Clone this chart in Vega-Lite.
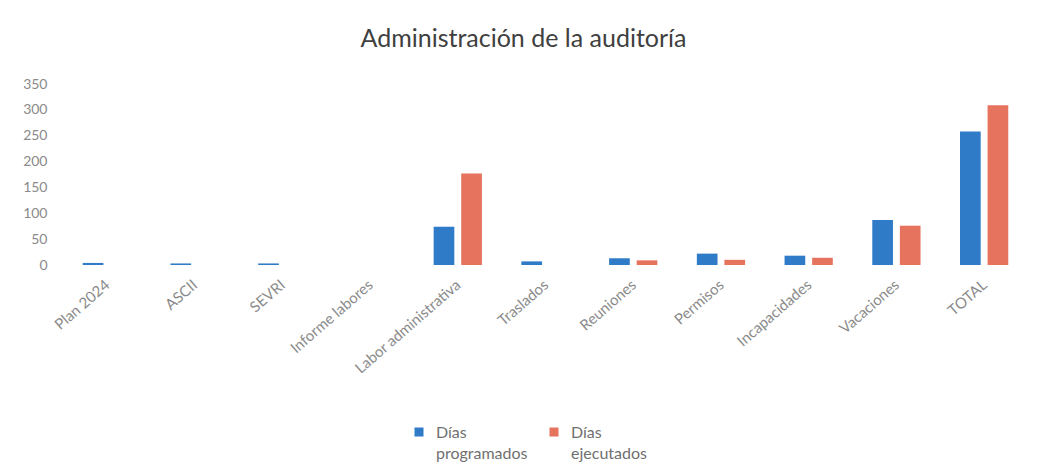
{
  "$schema": "https://vega.github.io/schema/vega-lite/v6.json",
  "autosize": {"type": "none"},
  "width": 965,
  "height": 181,
  "padding": {"left": 63, "top": 84, "right": 11, "bottom": 211},
  "background": "white",
  "title": {
    "text": "Administración de la auditoría",
    "font": "Lato",
    "fontSize": 25,
    "fontWeight": "normal",
    "color": "#404040",
    "anchor": "middle",
    "dx": -22,
    "offset": 25
  },
  "data": {
    "values": [
      {"categoria": "Plan 2024", "serie": "Días programados", "valor": 4},
      {"categoria": "Plan 2024", "serie": "Días ejecutados", "valor": 0},
      {"categoria": "ASCII", "serie": "Días programados", "valor": 3},
      {"categoria": "ASCII", "serie": "Días ejecutados", "valor": 0},
      {"categoria": "SEVRI", "serie": "Días programados", "valor": 3},
      {"categoria": "SEVRI", "serie": "Días ejecutados", "valor": 0},
      {"categoria": "Informe labores", "serie": "Días programados", "valor": 0},
      {"categoria": "Informe labores", "serie": "Días ejecutados", "valor": 0},
      {"categoria": "Labor administrativa", "serie": "Días programados", "valor": 74},
      {"categoria": "Labor administrativa", "serie": "Días ejecutados", "valor": 177},
      {"categoria": "Traslados", "serie": "Días programados", "valor": 7},
      {"categoria": "Traslados", "serie": "Días ejecutados", "valor": 0},
      {"categoria": "Reuniones", "serie": "Días programados", "valor": 13},
      {"categoria": "Reuniones", "serie": "Días ejecutados", "valor": 9},
      {"categoria": "Permisos", "serie": "Días programados", "valor": 22},
      {"categoria": "Permisos", "serie": "Días ejecutados", "valor": 10},
      {"categoria": "Incapacidades", "serie": "Días programados", "valor": 18},
      {"categoria": "Incapacidades", "serie": "Días ejecutados", "valor": 14},
      {"categoria": "Vacaciones", "serie": "Días programados", "valor": 87},
      {"categoria": "Vacaciones", "serie": "Días ejecutados", "valor": 76},
      {"categoria": "TOTAL", "serie": "Días programados", "valor": 258},
      {"categoria": "TOTAL", "serie": "Días ejecutados", "valor": 309}
    ]
  },
  "mark": {"type": "bar"},
  "encoding": {
    "x": {
      "field": "categoria",
      "type": "nominal",
      "sort": null,
      "scale": {"paddingInner": 0.45, "paddingOuter": 0.225},
      "axis": {
        "title": null,
        "labelAngle": -41,
        "labelFont": "Lato",
        "labelFontSize": 15,
        "labelColor": "#8a8a8a",
        "labelPadding": 12,
        "labelOffset": -4,
        "ticks": false,
        "domain": false,
        "labelLimit": 300
      }
    },
    "xOffset": {
      "field": "serie",
      "type": "nominal",
      "sort": ["Días programados", "Días ejecutados"],
      "scale": {"paddingInner": 0.25, "paddingOuter": 0}
    },
    "y": {
      "field": "valor",
      "type": "quantitative",
      "scale": {"domain": [0, 350], "nice": false},
      "axis": {
        "title": null,
        "values": [0, 50, 100, 150, 200, 250, 300, 350],
        "labelFont": "Lato",
        "labelFontSize": 14,
        "labelColor": "#8a8a8a",
        "labelPadding": 16,
        "ticks": false,
        "domain": false,
        "grid": false
      }
    },
    "color": {
      "field": "serie",
      "type": "nominal",
      "scale": {"domain": ["Días programados", "Días ejecutados"], "range": ["#2f7bc8", "#e5735e"]},
      "legend": {
        "title": null,
        "orient": "none",
        "legendX": 348,
        "legendY": 346,
        "direction": "horizontal",
        "columns": 2,
        "columnPadding": 18,
        "symbolType": "M-1,-2.33H1V-0.33H-1Z",
        "symbolSize": 81,
        "symbolStrokeWidth": 0,
        "labelFont": "Lato",
        "labelFontSize": 16,
        "labelColor": "#707070",
        "labelOffset": 9,
        "labelBaseline": "alphabetic",
        "labelExpr": "split(datum.label, ' ')"
      }
    }
  },
  "config": {
    "view": {"stroke": null},
    "style": {"guide-label": {"lineHeight": 21}}
  }
}
